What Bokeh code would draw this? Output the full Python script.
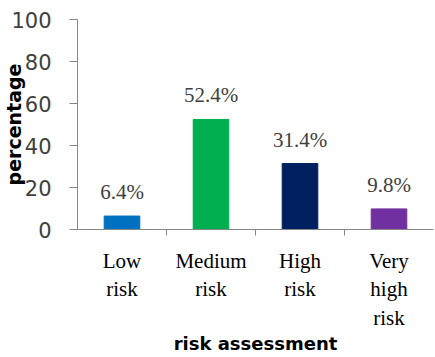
from bokeh.plotting import figure
from bokeh.models import Range1d, FixedTicker, ColumnDataSource, LabelSet
from bokeh.embed import file_html
from bokeh.resources import INLINE

categories = ["Low\nrisk", "Medium\nrisk", "High\nrisk", "Very\nhigh\nrisk"]
values = [6.4, 52.4, 31.4, 9.8]
labels = ["6.4%", "52.4%", "31.4%", "9.8%"]
colors = ["#0070C0", "#00B050", "#002060", "#7030A0"]
y_ticks = [0, 20, 40, 60, 80, 100]

xs = [i + 0.5 for i in range(len(categories))]
bounds = [i for i in range(1, len(categories))]

src = ColumnDataSource(dict(x=xs, top=values, label=labels, color=colors))

p = figure(width=435, height=357, output_backend="svg", toolbar_location=None,
           x_range=Range1d(0, len(categories)), y_range=Range1d(0, 100),
           min_border_left=77, min_border_right=2, min_border_top=19, min_border_bottom=127)
p.outline_line_color = None
p.grid.visible = False
p.background_fill_color = "white"
p.border_fill_color = "white"

p.vbar(x="x", top="top", width=0.4, color="color", source=src)

p.add_layout(LabelSet(x="x", y="top", text="label", source=src, y_offset=24,
                      text_align="center", text_baseline="middle",
                      text_font="DejaVu Sans", text_font_size="21px", text_color="#404040"))

# x axis
xa = p.xaxis[0]
xa.ticker = FixedTicker(ticks=xs, minor_ticks=bounds)
xa.major_label_overrides = {x: c for x, c in zip(xs, categories)}
xa.major_tick_out = 0
xa.major_tick_in = 0
xa.minor_tick_out = 6
xa.minor_tick_in = 0
xa.minor_tick_line_color = "#868686"
xa.axis_line_color = "#868686"
xa.major_label_text_font = "Liberation Serif"
xa.major_label_text_font_size = "21px"
xa.major_label_text_color = "#000000"
xa.major_label_standoff = 13
xa.axis_label = "risk assessment"
xa.axis_label_text_font = "DejaVu Sans"
xa.axis_label_text_font_size = "18px"
xa.axis_label_text_font_style = "bold"
xa.axis_label_text_color = "#000000"
xa.axis_label_standoff = 0

# y axis
ya = p.yaxis[0]
ya.ticker = FixedTicker(ticks=y_ticks)
ya.minor_tick_line_color = None
ya.major_tick_out = 8
ya.major_tick_in = 0
ya.major_tick_line_color = "#868686"
ya.axis_line_color = "#868686"
ya.major_label_text_font = "DejaVu Sans"
ya.major_label_text_font_size = "21px"
ya.major_label_text_color = "#404040"
ya.major_label_standoff = 18
ya.axis_label = "percentage"
ya.axis_label_text_font = "DejaVu Sans"
ya.axis_label_text_font_size = "19px"
ya.axis_label_text_font_style = "bold"
ya.axis_label_text_color = "#000000"
ya.axis_label_standoff = -17

open("out.html", "w").write(file_html(p, INLINE))
